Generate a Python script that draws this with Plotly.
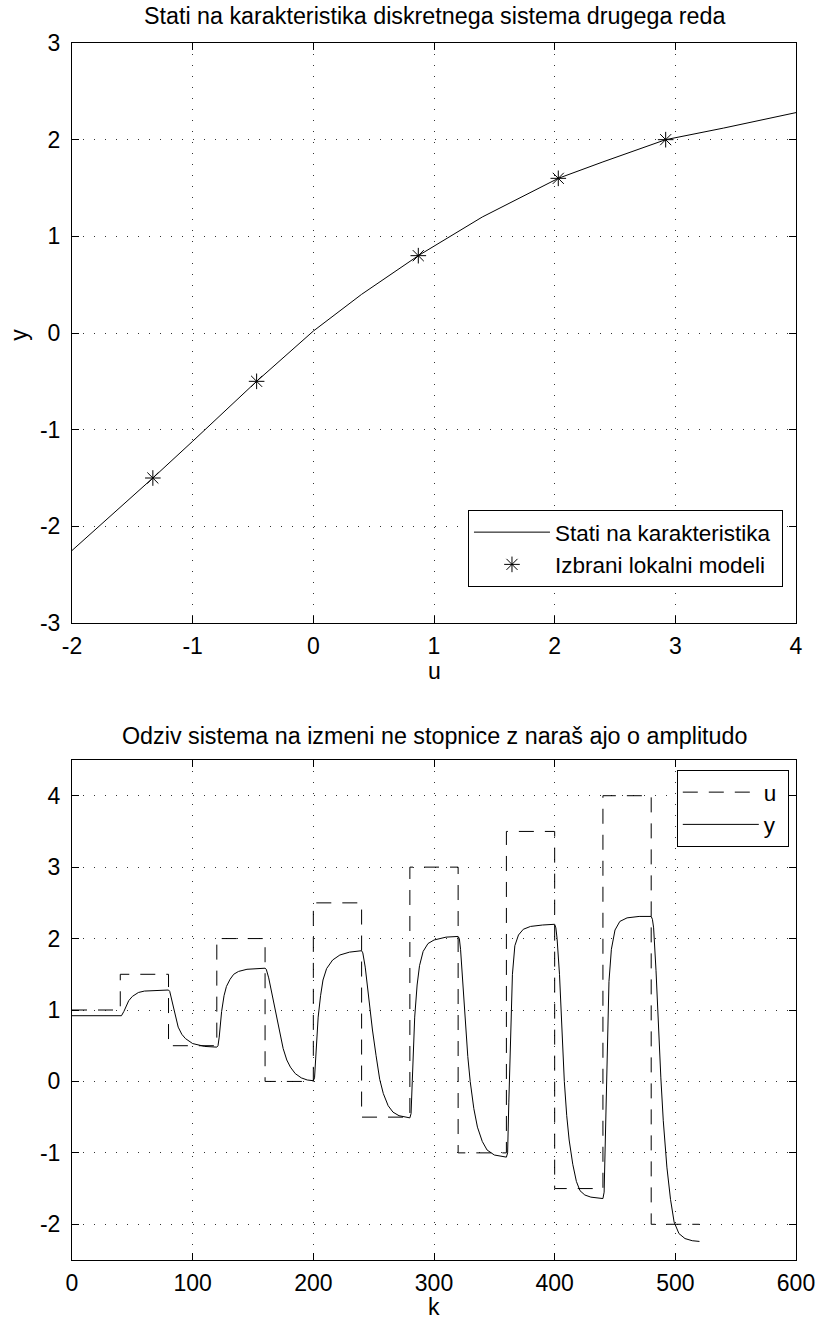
import plotly.graph_objects as go

# --- Static characteristic (upper panel) ---
char_u = [-2.0, -1.33, -1.0, -0.47, 0.0, 0.4, 0.87, 1.4, 2.03, 2.4, 2.92, 3.4, 4.0]
char_y = [-2.25, -1.5, -1.12, -0.5, 0.02, 0.4, 0.8, 1.2, 1.6, 1.77, 2.0, 2.12, 2.28]

# Selected local models (operating points)
model_u = [-1.33, -0.47, 0.87, 2.03, 2.92]
model_y = [-1.5, -0.5, 0.8, 1.6, 2.0]

# --- Step response (lower panel) ---
step_k = [0, 40, 80, 120, 160, 200, 240, 280, 320, 360, 400, 440, 480, 520]
step_u = [1.0, 1.5, 0.5, 2.0, 0.0, 2.5, -0.5, 3.0, -1.0, 3.5, -1.5, 4.0, -2.0, -2.0]

resp_k = [0, 40,
          41, 43, 45, 47, 50, 55, 60, 70, 80,
          81, 83, 85, 88, 91, 94, 100, 105, 110, 120,
          121, 122, 123, 124, 126, 128, 131, 134, 138, 145, 160,
          161, 163, 165, 167, 170, 173, 175, 178, 181, 185, 190, 195, 200,
          201, 202, 203, 204, 206, 208, 211, 216, 222, 230, 240,
          241, 243, 246, 249, 252, 255, 258, 262, 266, 271, 280,
          281, 282, 283, 284, 286, 288, 291, 295, 300, 310, 320,
          321, 322, 324, 326, 328, 330, 333, 336, 340, 344, 350, 360,
          361, 362, 363, 364, 365, 367, 370, 374, 380, 390, 400,
          401, 402, 404, 406, 408, 410, 412, 415, 418, 421, 425, 430, 440,
          441, 442, 443, 444, 445, 447, 450, 454, 460, 470, 480,
          481, 482, 484, 486, 488, 490, 493, 496, 499, 503, 508, 514, 520]
resp_y = [0.92, 0.92,
          0.92, 0.98, 1.06, 1.13, 1.19, 1.245, 1.265, 1.275, 1.28,
          1.26, 1.12, 0.98, 0.76, 0.66, 0.6, 0.53, 0.505, 0.49, 0.48,
          0.5, 0.62, 0.8, 0.98, 1.2, 1.33, 1.43, 1.5, 1.54, 1.57, 1.585,
          1.57, 1.45, 1.28, 1.12, 0.85, 0.6, 0.46, 0.3, 0.2, 0.11, 0.05, 0.02, 0.01,
          0.05, 0.35, 0.65, 0.9, 1.2, 1.42, 1.58, 1.7, 1.77, 1.81, 1.83,
          1.8, 1.6, 1.15, 0.72, 0.36, 0.03, -0.17, -0.34, -0.43, -0.48, -0.51,
          -0.45, 0.0, 0.5, 0.9, 1.35, 1.62, 1.82, 1.93, 1.98, 2.02, 2.03,
          2.0, 1.85, 1.35, 0.8, 0.35, 0.0, -0.38, -0.64, -0.84, -0.96, -1.03, -1.06,
          -1.0, -0.3, 0.4, 1.0, 1.5, 1.9, 2.05, 2.13, 2.17, 2.19, 2.2,
          2.15, 2.0, 1.5, 0.7, 0.0, -0.48, -0.82, -1.16, -1.4, -1.53, -1.59, -1.62, -1.64,
          -1.55, -0.7, 0.2, 0.9, 1.4, 1.85, 2.12, 2.24, 2.29, 2.31, 2.31,
          2.27, 2.15, 1.55, 0.75, 0.05, -0.55, -1.2, -1.65, -1.97, -2.13, -2.2, -2.23, -2.24]

# Tick labels (ASCII hyphen for negatives)
top_xticks = [-2, -1, 0, 1, 2, 3, 4]
top_yticks = [-3, -2, -1, 0, 1, 2, 3]
bot_xticks = [0, 100, 200, 300, 400, 500, 600]
bot_yticks = [-2, -1, 0, 1, 2, 3, 4]

FONT = "Liberation Sans, Arial, Helvetica, sans-serif"
TICK_FS = 23
TITLE_FS = 23.3
LEG_FS = 22.5
NBSP = "\u00a0"

fig = go.Figure()

fig.add_trace(go.Scatter(x=char_u, y=char_y, mode="lines",
                         name="Stati na karakteristika" + NBSP,
                         line=dict(color="black", width=1), xaxis="x", yaxis="y",
                         legend="legend"))
fig.add_trace(go.Scatter(x=model_u, y=model_y, mode="markers",
                         name="Izbrani lokalni modeli",
                         marker=dict(symbol="asterisk-open", size=13, color="black",
                                     line=dict(color="black", width=1)),
                         xaxis="x", yaxis="y", legend="legend"))

fig.add_trace(go.Scatter(x=step_k, y=step_u, mode="lines", name="u" + NBSP, line_shape="hv",
                         line=dict(color="black", width=1, dash="15px,11px"),
                         xaxis="x2", yaxis="y2", legend="legend2"))
fig.add_trace(go.Scatter(x=resp_k, y=resp_y, mode="lines", name="y",
                         line=dict(color="black", width=1),
                         xaxis="x2", yaxis="y2", legend="legend2"))

W, H = 827, 1319
L, R, T, B = 72, 20, 43, 59
ph = H - T - B


def py(px):
    return (H - B - px) / ph


def px_x(px):
    return (px - L) / (W - L - R)


axis_common = dict(
    showline=True, linecolor="black", linewidth=1, mirror="ticks",
    ticks="inside", ticklen=7, tickcolor="black", tickwidth=1,
    showgrid=True, gridcolor="#333", gridwidth=1, griddash="1px,10px",
    zeroline=False, tickfont=dict(family=FONT, size=TICK_FS, color="black"),
)

legend_common = dict(
    xanchor="left", yanchor="top",
    bgcolor="white", bordercolor="black", borderwidth=1,
    font=dict(family=FONT, size=LEG_FS, color="black"),
    itemwidth=76, tracegroupgap=0,
)

fig.update_layout(
    width=W, height=H,
    margin=dict(l=L, r=R, t=T, b=B),
    paper_bgcolor="white", plot_bgcolor="white",
    font=dict(family=FONT, size=TICK_FS, color="black"),
    xaxis=dict(axis_common, domain=[0, 1], anchor="y", range=[-2, 4],
               tickvals=top_xticks, ticktext=[str(v) for v in top_xticks],
               ticklabelstandoff=2),
    yaxis=dict(axis_common, domain=[py(623), 1], anchor="x", range=[-3, 3],
               tickvals=top_yticks, ticktext=[str(v) for v in top_yticks],
               ticklabelstandoff=6),
    xaxis2=dict(axis_common, domain=[0, 1], anchor="y2", range=[0, 600],
                tickvals=bot_xticks, ticktext=[str(v) for v in bot_xticks],
                ticklabelstandoff=2),
    yaxis2=dict(axis_common, domain=[0, py(760)], anchor="x2", range=[-2.5, 4.5],
                tickvals=bot_yticks, ticktext=[str(v) for v in bot_yticks],
                ticklabelstandoff=6),
    legend=dict(legend_common, x=px_x(474), y=py(510)),
    legend2=dict(legend_common, x=px_x(686), y=py(770)),
    showlegend=True,
)

annotations = [
    dict(text="Stati na karakteristika diskretnega sistema drugega reda",
         x=0.5, y=py(16), xref="paper", yref="paper", xanchor="center", yanchor="middle",
         showarrow=False, font=dict(family=FONT, size=TITLE_FS, color="black")),
    dict(text="Odziv sistema na izmeni ne stopnice z naraš ajo o amplitudo",
         x=0.5, y=py(736), xref="paper", yref="paper", xanchor="center", yanchor="middle",
         showarrow=False, font=dict(family=FONT, size=TITLE_FS, color="black")),
    dict(text="u", x=0.5, y=py(671), xref="paper", yref="paper",
         xanchor="center", yanchor="middle", showarrow=False,
         font=dict(family=FONT, size=TICK_FS, color="black")),
    dict(text="y", x=px_x(18), y=py(335), xref="paper", yref="paper",
         xanchor="center", yanchor="middle", textangle=-90, showarrow=False,
         font=dict(family=FONT, size=TICK_FS, color="black")),
    dict(text="k", x=0.5, y=py(1307), xref="paper", yref="paper",
         xanchor="center", yanchor="middle", showarrow=False,
         font=dict(family=FONT, size=TICK_FS, color="black")),
]
fig.update_layout(annotations=annotations)

fig.write_html("out.html")
